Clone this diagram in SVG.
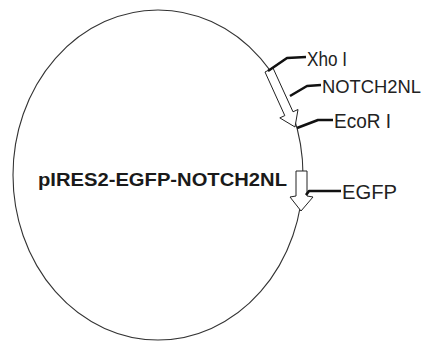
<svg xmlns="http://www.w3.org/2000/svg" width="429" height="342" viewBox="0 0 429 342">
<style>
.bb{fill:none;stroke:#333;stroke-width:1.1}
.ar{fill:#fff;stroke:#222;stroke-width:1;stroke-linejoin:miter}
.ld{fill:none;stroke:#111;stroke-width:2.6;stroke-linejoin:round;stroke-linecap:butt}
.lb{font-family:"Liberation Sans",Arial,sans-serif;font-size:20.5px;fill:#222}
.tt{font-family:"Liberation Sans",Arial,sans-serif;font-size:19px;font-weight:bold;fill:#1a1a1a}
</style>
<rect width="429" height="342" fill="#fff"/>
<g id="plasmid">
<ellipse class="bb" cx="158" cy="175" rx="145" ry="165"/>
<text class="tt" x="38" y="186" textLength="249" lengthAdjust="spacingAndGlyphs">pIRES2-EGFP-NOTCH2NL</text>
</g>
<g id="notch2nl-arrow">
<polygon class="ar" points="265,72 273,68 293,111.8 298,109.5 295,127 279.8,117.9 284.8,115.6"/>
</g>
<g id="egfp-arrow">
<polygon class="ar" points="296,171 307,171 307,196 313,197 301,211 290,197 296,196"/>
</g>
<g id="connectors">
<polyline class="ld" points="268,71 287,58 306,57"/>
<polyline class="ld" points="290,96 307,86 321,85"/>
<polyline class="ld" points="297,128 318,120 333,120"/>
<polyline class="ld" points="306,195 309,191 341,191"/>
</g>
<g id="label-xho">
<text class="lb" x="307" y="65.5" textLength="40" lengthAdjust="spacingAndGlyphs">Xho I</text>
</g>
<g id="label-notch2nl">
<text class="lb" x="322" y="92.5" style="font-size:19px" textLength="99" lengthAdjust="spacingAndGlyphs">NOTCH2NL</text>
</g>
<g id="label-ecor">
<text class="lb" x="334" y="127.5" textLength="57" lengthAdjust="spacingAndGlyphs">EcoR I</text>
</g>
<g id="label-egfp">
<text class="lb" x="342" y="198.5" textLength="55" lengthAdjust="spacingAndGlyphs">EGFP</text>
</g>
</svg>
